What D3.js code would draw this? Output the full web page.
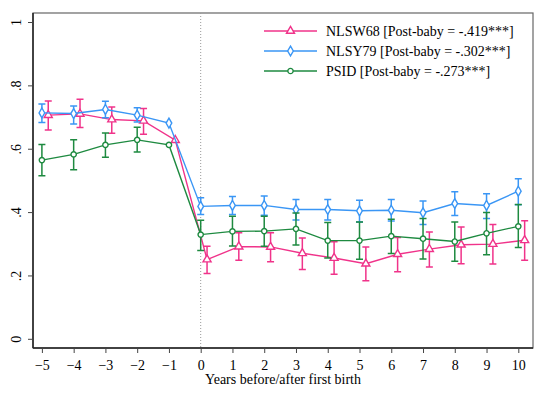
<!DOCTYPE html>
<html>
<head>
<meta charset="utf-8">
<script src="https://cdn.jsdelivr.net/npm/d3@7"></script>
<style>
  body { margin: 0; background: #fff; }
  svg text { font-family: "Times New Roman", "Liberation Serif", Times, serif; }
</style>
</head>
<body>
<div id="chart"></div>
<script>
// years relative to first birth
const years = [-5, -4, -3, -2, -1, 0, 1, 2, 3, 4, 5, 6, 7, 8, 9, 10];
const yTicks = [0, 0.2, 0.4, 0.6, 0.8, 1];
const yTickLabels = ["0", ".2", ".4", ".6", ".8", "1"];

// NLSW68 (pink, shifted right by 0.2)
const nlswEst = [0.706, 0.710, 0.692, 0.688, 0.627, 0.250, 0.291, 0.290, 0.270, 0.255, 0.237, 0.267, 0.283, 0.297, 0.299, 0.311];
const nlswLo  = [0.659, 0.667, 0.649, 0.646, null, 0.206, 0.248, 0.243, 0.219, 0.204, 0.183, 0.212, 0.227, 0.237, 0.236, 0.248];
const nlswHi  = [0.751, 0.756, 0.732, 0.727, null, 0.292, 0.335, 0.335, 0.318, 0.306, 0.290, 0.320, 0.337, 0.353, 0.361, 0.373];

// NLSY79 (blue)
const nlsyEst = [0.713, 0.711, 0.724, 0.706, 0.681, 0.418, 0.421, 0.421, 0.408, 0.408, 0.404, 0.406, 0.398, 0.427, 0.421, 0.466];
const nlsyLo  = [0.683, 0.678, 0.698, 0.684, null, 0.392, 0.392, 0.390, 0.375, 0.375, 0.369, 0.372, 0.361, 0.389, 0.380, 0.423];
const nlsyHi  = [0.741, 0.735, 0.750, 0.729, null, 0.445, 0.449, 0.451, 0.440, 0.440, 0.437, 0.440, 0.435, 0.464, 0.458, 0.505];

// PSID (green)
const psidEst = [0.564, 0.582, 0.612, 0.628, 0.612, 0.329, 0.339, 0.340, 0.347, 0.310, 0.310, 0.324, 0.316, 0.307, 0.333, 0.355];
const psidLo  = [0.515, 0.534, 0.573, 0.590, null, 0.279, 0.293, 0.292, 0.296, 0.255, 0.251, 0.269, 0.252, 0.245, 0.265, 0.288];
const psidHi  = [0.613, 0.628, 0.650, 0.668, null, 0.374, 0.387, 0.387, 0.397, 0.367, 0.369, 0.377, 0.380, 0.369, 0.399, 0.424];

const seriesNames = ["NLSW68 [Post-baby = -.419***]", "NLSY79 [Post-baby = -.302***]", "PSID [Post-baby = -.273***]"];

const series = [
  { name: seriesNames[0], est: nlswEst, lo: nlswLo, hi: nlswHi, color: "#f0338a", shape: d3.symbolTriangle, shift: 0.2 },
  { name: seriesNames[1], est: nlsyEst, lo: nlsyLo, hi: nlsyHi, color: "#3a96f5", shape: d3.symbolDiamond, shift: 0 },
  { name: seriesNames[2], est: psidEst, lo: psidLo, hi: psidHi, color: "#1e8a40", shape: d3.symbolCircle, shift: 0 }
];

const W = 547, H = 393;
const margin = { top: 13, right: 14, bottom: 45, left: 33 };
const serif = "'Times New Roman', 'Liberation Serif', serif";

const svg = d3.select("#chart").append("svg").attr("width", W).attr("height", H);

const x = d3.scaleLinear().domain([-5, 10]).range([41.9, 518.3]);
const y = d3.scaleLinear().domain([0, 1]).range([338.8, 22]);

const plotL = margin.left, plotR = W - margin.right, plotT = margin.top, plotB = H - margin.bottom;

// frame
svg.append("rect")
  .attr("x", plotL).attr("y", plotT)
  .attr("width", plotR - plotL).attr("height", plotB - plotT)
  .attr("fill", "none").attr("stroke", "#666").attr("stroke-width", 1.2);

// vertical reference line at 0
svg.append("line")
  .attr("x1", x(0)).attr("x2", x(0))
  .attr("y1", plotT).attr("y2", plotB)
  .attr("stroke", "#999").attr("stroke-width", 1).attr("stroke-dasharray", "1,2");

// axes
const xAxis = svg.append("g")
  .attr("font-family", serif)
  .attr("transform", "translate(0," + plotB + ")")
  .call(d3.axisBottom(x).tickValues(years).tickFormat(d3.format("d")).tickSizeInner(5).tickSizeOuter(0));
xAxis.attr("font-family", serif);
xAxis.select(".domain").attr("d", "M" + plotL + ",0H" + plotR).attr("stroke", "#222").attr("stroke-width", 1.5);
xAxis.selectAll(".tick line").attr("stroke", "#444");
xAxis.selectAll("text").attr("font-size", 14).attr("dy", "0.98em").attr("fill", "#000");

const yAxis = svg.append("g")
  .attr("transform", "translate(" + plotL + ",0)")
  .call(d3.axisLeft(y).tickValues(yTicks).tickFormat((d, i) => yTickLabels[i]).tickSizeInner(5).tickSizeOuter(0));
yAxis.attr("font-family", serif);
yAxis.select(".domain").attr("d", "M0," + plotT + "V" + plotB).attr("stroke", "#222").attr("stroke-width", 1.5);
yAxis.selectAll(".tick line").attr("stroke", "#444");
yAxis.selectAll("text")
  .attr("font-size", 14).attr("fill", "#000")
  .attr("text-anchor", "middle")
  .attr("x", 0).attr("dy", 0)
  .attr("transform", "translate(-12,0) rotate(-90)");

svg.append("text")
  .attr("x", 283).attr("y", 384)
  .attr("text-anchor", "middle").attr("font-size", 14)
  .text("Years before/after first birth");

// series
const capW = 3.5;
series.forEach(s => {
  const pts = years.map((yr, i) => ({ yr: yr + s.shift, est: s.est[i], lo: s.lo[i], hi: s.hi[i] }));
  const g = svg.append("g");

  const ci = pts.filter(d => d.lo != null);
  g.selectAll(".ci").data(ci).enter().append("path")
    .attr("d", d => {
      const cx = x(d.yr), yl = y(d.lo), yh = y(d.hi);
      return "M" + (cx - capW) + "," + yh + "H" + (cx + capW) +
        "M" + cx + "," + yh + "V" + yl +
        "M" + (cx - capW) + "," + yl + "H" + (cx + capW);
    })
    .attr("fill", "none").attr("stroke", s.color).attr("stroke-width", 1.5);

  g.append("path").datum(pts)
    .attr("d", d3.line().x(d => x(d.yr)).y(d => y(d.est)))
    .attr("fill", "none").attr("stroke", s.color).attr("stroke-width", 1.4);

  g.selectAll(".mk").data(pts).enter().append("path")
    .attr("transform", d => "translate(" + x(d.yr) + "," + y(d.est) + ")")
    .attr("d", d3.symbol().type(s.shape).size(s.shape === d3.symbolCircle ? 22 : 28))
    .attr("fill", "#fff").attr("stroke", s.color).attr("stroke-width", 1.4);
});

// legend
const legend = svg.append("g");
series.forEach((s, i) => {
  const ly = 31 + i * 20;
  legend.append("line")
    .attr("x1", 264).attr("x2", 317).attr("y1", ly).attr("y2", ly)
    .attr("stroke", s.color).attr("stroke-width", 1.5);
  legend.append("path")
    .attr("transform", "translate(290.5," + ly + ")")
    .attr("d", d3.symbol().type(s.shape).size(s.shape === d3.symbolCircle ? 22 : 28))
    .attr("fill", "#fff").attr("stroke", s.color).attr("stroke-width", 1.4);
  legend.append("text")
    .attr("x", 326).attr("y", ly + 4.5)
    .attr("font-size", 14)
    .text(s.name);
});
</script>
</body>
</html>
